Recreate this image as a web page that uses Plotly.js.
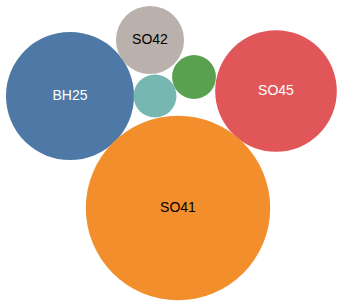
<!DOCTYPE html>
<html><head><meta charset="utf-8">
<script src="https://cdn.plot.ly/plotly-3.0.1.min.js"></script>
<style>html,body{margin:0;padding:0;background:#fff;}#chart{width:337px;height:304px;}</style>
</head><body><div id="chart"></div>
<script>
const names = ["BH25", "SO42", "", "", "SO45", "SO41"];
const values = [41, 11.6, 4.6, 4.8, 37, 85];
const centerX = [70, 150, 155, 194, 276, 178];
const centerY = [96, 40, 96, 77, 91, 208];
const colors = ["#4e79a7", "#bab0ac", "#76b7b2", "#59a14f", "#e15759", "#f28e2b"];
const labelColors = ["#ffffff", "#000000", "#000000", "#000000", "#ffffff", "#000000"];

const k = 10;
const sizes = values.map(v => 2 * k * Math.sqrt(v));

Plotly.newPlot("chart", [{
  type: "scatter",
  mode: "markers+text",
  x: centerX,
  y: centerY,
  text: names,
  textposition: "middle center",
  textfont: {family: "Liberation Sans, Arial, sans-serif", size: 14, color: labelColors},
  marker: {size: sizes, sizemode: "diameter", color: colors, opacity: 1, line: {width: 0}},
  hoverinfo: "text",
  cliponaxis: false
}], {
  width: 337, height: 304,
  margin: {l: 0, r: 0, t: 0, b: 0},
  paper_bgcolor: "#ffffff", plot_bgcolor: "#ffffff",
  showlegend: false,
  xaxis: {range: [0, 337], visible: false, fixedrange: true},
  yaxis: {range: [304, 0], visible: false, fixedrange: true}
}, {displayModeBar: false, staticPlot: true});
</script></body></html>
